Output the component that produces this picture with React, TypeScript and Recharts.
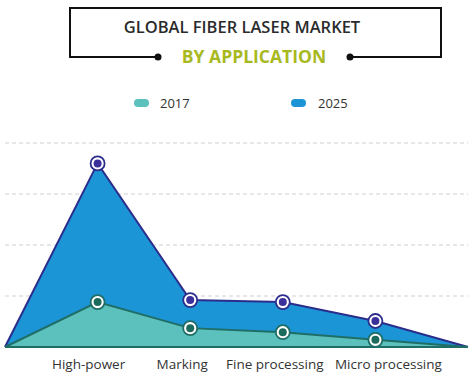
import { AreaChart, Area, XAxis, YAxis, CartesianGrid } from 'recharts';

const categories = ['', 'High-power', 'Marking', 'Fine processing', 'Micro processing', ' '];
const values2017 = [0, 0.88, 0.37, 0.29, 0.14, 0];
const values2025 = [0, 3.6, 0.92, 0.88, 0.51, 0];
const yTicks = [0, 1, 2, 3, 4];

const data = categories.map((name, i) => ({
  name,
  y2017: values2017[i],
  y2025: values2025[i],
}));

const FONT = '"Open Sans", "Noto Sans", sans-serif';

// labels in the original sit a little off their points
const labelShift = [0, -9, -8, -8, 13, 0];

function makeDot(edge: string, inner: string) {
  return (props: any) => {
    const { cx, cy, index } = props;
    if (index === 0 || index === categories.length - 1 || cx == null) {
      return <g key={`d-${index}`} />;
    }
    return (
      <g key={`d-${index}`}>
        <circle cx={cx} cy={cy} r={7} fill="#fff" stroke={edge} strokeWidth={1.8} />
        <circle cx={cx} cy={cy} r={4} fill={inner} />
      </g>
    );
  };
}

function Tick(props: any) {
  const { x, y, payload, index } = props;
  return (
    <text
      x={x + (labelShift[index] || 0)}
      y={y}
      dy="0.71em"
      textAnchor="middle"
      fontFamily={FONT}
      fontSize={13.5}
      fill="#333"
    >
      {payload.value}
    </text>
  );
}

function Header() {
  return (
    <svg width={473} height={130} style={{ position: 'absolute', left: 0, top: 0 }}>
      <path d="M158 57 H70 V8 H441 V57 H350" fill="none" stroke="#111" strokeWidth={2} />
      <circle cx={158} cy={57} r={3.5} fill="#111" />
      <circle cx={350} cy={57} r={3.5} fill="#111" />
      <text x={242} y={33} textAnchor="middle" fontFamily={FONT} fontWeight={600} fontSize={16.5} fill="#2b2b2b">
        GLOBAL FIBER LASER MARKET
      </text>
      <text x={254} y={63} textAnchor="middle" fontFamily={FONT} fontWeight={700} fontSize={17.5} fill="#a8b91f">
        BY APPLICATION
      </text>
      <rect x={134} y={99} width={15} height={8} rx={4} fill="#5cc0bd" />
      <text x={160} y={108} fontFamily={FONT} fontSize={13} fill="#333">2017</text>
      <rect x={291} y={99} width={15} height={8} rx={4} fill="#1b95d6" />
      <text x={318} y={108} fontFamily={FONT} fontSize={13} fill="#333">2025</text>
    </svg>
  );
}

export default function App() {
  return (
    <div style={{ position: 'absolute', left: 0, top: 0, width: 473, height: 379, background: '#fff' }}>
      <AreaChart
        width={473}
        height={379}
        data={data}
        margin={{ top: 143, right: 5, left: 5, bottom: 2 }}
      >
        <CartesianGrid vertical={false} strokeDasharray="4 3" stroke="#cfcfcf" />
        <YAxis hide domain={[0, 4]} ticks={yTicks} />
        <XAxis
          dataKey="name"
          height={30}
          tickSize={0}
          tickMargin={12}
          interval={0}
          axisLine={{ stroke: '#1f6e66', strokeWidth: 2 }}
          tick={<Tick />}
        />
        <Area
          type="linear"
          dataKey="y2025"
          stroke="#2b2d8c"
          strokeWidth={2}
          fill="#1b95d6"
          fillOpacity={1}
          dot={makeDot('#2b2d8c', '#3b2f9a')}
          activeDot={false}
          isAnimationActive={false}
        />
        <Area
          type="linear"
          dataKey="y2017"
          stroke="#1f6e66"
          strokeWidth={2}
          fill="#5cc0bd"
          fillOpacity={1}
          dot={makeDot('#1f6e66', '#1b6b5d')}
          activeDot={false}
          isAnimationActive={false}
        />
      </AreaChart>
      <Header />
    </div>
  );
}
